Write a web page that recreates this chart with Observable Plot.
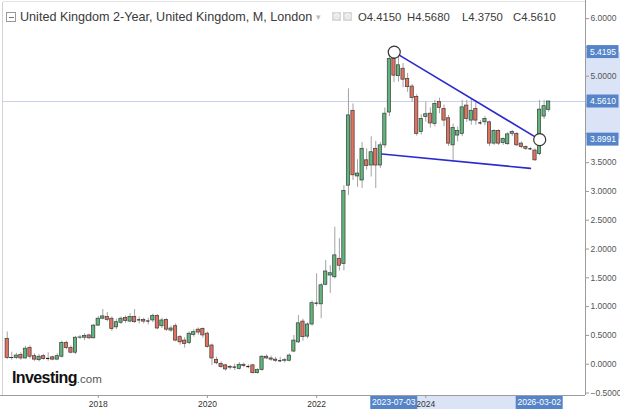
<!DOCTYPE html>
<html><head><meta charset="utf-8">
<script src="https://cdn.jsdelivr.net/npm/d3@7"></script>
<script src="https://cdn.jsdelivr.net/npm/@observablehq/plot@0.6"></script>
<style>
html,body{margin:0;padding:0;background:#fff;}
#wrap{position:relative;width:620px;height:409px;overflow:hidden;font-family:"Liberation Sans",Arial,sans-serif;}
#wrap svg{display:block}
.ov{position:absolute;white-space:nowrap;line-height:14px;color:#3a3a3a;font-size:12.6px;}
.ohlc{font-size:11.3px;}
.ico{position:absolute;top:12px;width:9px;height:9px;background:#d9d9d9;color:#fff;font-size:8px;line-height:9px;text-align:center;}
</style></head><body>
<div id="wrap"></div>
<script>
// ---- data (monthly candles, first candle = firstMonth) ----
const firstMonth = "2016-06";
const open = [
  .44,.11,.11,.16,.10,.28,.14,.07,.14,.10,
  .12,.08,.13,.37,.28,.20,.46,.46,.50,.45,
  .67,.79,.82,.79,.64,.72,.80,.74,.82,.77,
  .77,.75,.76,.84,.66,.77,.585,.66,.47,.41,
  .37,.51,.60,.61,.53,.325,.076,.007,-.02,-.05,
  -.05,-.08,-.01,-.04,-.02,-.155,-.10,.13,.10,.08,
  .06,.06,.06,.22,.38,.74,.48,.69,1.06,1.04,
  1.38,1.54,1.51,1.83,1.74,3.10,4.40,3.26,3.19,3.54,
  3.45,3.74,3.45,3.80,4.37,5.30,5.00,5.13,4.95,4.82,
  4.64,4.03,4.29,4.35,4.17,4.55,4.43,4.27,3.80,3.97,
  4.00,4.49,4.23,4.43,4.19,4.20,4.20,3.83,4.05,3.84,
  3.82,4.00,4.00,3.83,3.77,3.74,3.71,3.65,4.30,4.415
];
const high = [
  .56,.21,.19,.20,.31,.32,.18,.17,.17,.20,
  .14,.18,.40,.40,.32,.48,.50,.53,.52,.69,
  .83,.95,.90,.82,.78,.82,.84,.88,.95,.82,
  .80,.80,.87,.86,.80,.79,.66,.70,.50,.46,
  .56,.60,.63,.63,.56,.35,.12,.04,.00,-.02,
  .00,.03,.02,-.01,.00,-.08,.15,.16,.14,.12,
  .12,.10,.18,.50,.845,.78,.72,1.10,1.57,1.40,
  1.80,1.71,2.38,2.18,3.10,4.78,4.52,3.55,3.85,3.74,
  3.95,3.87,3.85,4.45,5.36,5.4195,5.36,5.22,5.05,4.86,
  4.68,4.33,4.55,4.45,4.58,4.62,4.50,4.32,4.17,4.12,
  4.58,4.58,4.60,4.58,4.23,4.30,4.22,4.07,4.07,3.93,
  4.02,4.06,4.02,3.86,3.79,3.76,3.74,4.58,4.58,4.568
];
const low = [
  .08,.07,.08,.07,.09,.09,.05,.04,.07,.05,
  .06,.06,.11,.25,.18,.17,.43,.41,.43,.44,
  .66,.77,.74,.57,.60,.69,.71,.72,.71,.70,
  .70,.68,.72,.60,.62,.57,.55,.39,.33,.28,
  .34,.47,.50,.45,.28,-.02,-.01,-.07,-.12,-.10,
  -.11,-.10,-.06,-.08,-.17,-.17,-.12,.08,.05,.03,
  .03,.02,.04,.20,.36,.40,.44,.66,1.00,.79,
  1.36,1.23,1.48,1.62,1.62,2.93,3.19,3.07,3.05,3.37,
  3.25,3.05,3.40,3.75,4.30,4.89,4.90,4.80,4.72,4.55,
  3.96,3.98,4.20,4.10,4.12,4.35,4.12,3.78,3.54,3.86,
  3.95,4.20,4.15,4.15,4.15,4.14,3.78,3.80,3.80,3.80,
  3.80,3.95,3.78,3.74,3.71,3.71,3.52,3.62,4.25,4.375
];
const close = [
  .11,.105,.15,.10,.27,.13,.08,.13,.09,.10,
  .08,.14,.37,.28,.20,.46,.465,.49,.45,.67,
  .79,.83,.77,.61,.73,.79,.75,.82,.73,.77,
  .74,.75,.84,.62,.76,.60,.62,.41,.38,.35,
  .53,.556,.55,.50,.30,.10,.017,-.05,-.09,-.06,
  -.05,-.01,-.03,-.04,-.155,-.10,.13,.10,.08,.06,
  .06,.07,.15,.41,.71,.47,.69,1.06,1.06,1.37,
  1.61,1.58,1.89,1.71,3.01,4.32,3.28,3.31,3.74,3.44,
  3.68,3.45,3.80,4.35,5.30,5.01,5.19,4.94,4.81,4.62,
  4.00,4.26,4.34,4.18,4.52,4.45,4.23,3.83,4.10,4.05,
  4.46,4.26,4.40,4.23,4.19,4.26,3.83,4.05,3.83,3.91,
  3.99,4.03,3.80,3.77,3.74,3.74,3.54,4.42,4.48,4.561
];
const yTicks = [-0.5,0,0.5,1,1.5,2,2.5,3,3.5,4,4.5,5,5.5,6];
const xTickLabels = ["2018","2020","2022","2024"];
const xTickMonths = ["2018-02","2020-02","2022-02","2024-02"];
const pivotDates = ["2023-07-03","2026-03-02"];
const pivotValues = [5.4195, 3.8991];
const supportDates = ["2023-04-12","2026-01-01"];
const supportValues = [3.65, 3.40];
const titleText = "United Kingdom 2-Year, United Kingdom, M, London";

// ---- derived ----
const [fy, fm] = firstMonth.split("-").map(Number);
function monthIndex(s) {
  const [y, m, d] = s.split("-").map(Number);
  return (y - fy) * 12 + (m - fm) + (d ? (d - 1) / 31 : 0);
}
const candles = open.map((o, i) => ({i, open: o, high: high[i], low: low[i], close: close[i]}));
const last = candles[candles.length - 1];
const fmt4 = d3.format(".4f");
const bw = 0.36;
const upC = "#5fb67a", downC = "#e2715e", edge = "#3b3b3b", blueBox = "#5585c8", band = "#dbe4f6";
const bodies = candles.filter(d => d.close !== d.open);
const dojis = candles.filter(d => d.close === d.open);
const pivots = pivotDates.map((s, k) => ({i: monthIndex(s), v: pivotValues[k], label: s}));
const support = supportDates.map((s, k) => ({i: monthIndex(s), v: supportValues[k]}));
const yCallouts = [pivots[0].v, last.close, pivots[1].v];
const tickMap = new Map(xTickMonths.map((m, k) => [monthIndex(m), xTickLabels[k]]));
// tick labels that sit under a value callout are covered (as in the reference)
const yTickLabel = t => yCallouts.some(v => Math.abs(v - t) < 0.2) ? "" : fmt4(t);

function bands(index, {x, y}, values, dim) {
  const g = d3.create("svg:g");
  const right = dim.width - dim.marginRight, bottom = dim.height - dim.marginBottom;
  const ya = y(pivots[0].v), yb = y(pivots[1].v);
  g.append("rect").attr("x", right + 1).attr("y", ya).attr("width", dim.marginRight).attr("height", yb - ya).attr("fill", band);
  const xa = x(pivots[0].i), xb = x(pivots[1].i);
  g.append("rect").attr("x", xa).attr("y", bottom + 1).attr("width", xb - xa).attr("height", dim.marginBottom).attr("fill", band);
  return g.node();
}
function frameLines(index, scales, values, dim) {
  const g = d3.create("svg:g").attr("shape-rendering", "crispEdges");
  const l = dim.marginLeft, r = dim.width - dim.marginRight, t = dim.marginTop, b = dim.height - dim.marginBottom;
  const seg = (x1, y1, x2, y2, c) => g.append("line").attr("x1", x1).attr("y1", y1).attr("x2", x2).attr("y2", y2).attr("stroke", c);
  seg(l - 0.5, t, l - 0.5, b, "#d2d2d2");
  seg(l, t - 0.5, r, t - 0.5, "#e2e2e2");
  seg(r + 0.5, 0, r + 0.5, b, "#9c9c9c");
  seg(0, b + 0.5, r, b + 0.5, "#9c9c9c");
  return g.node();
}
function callouts(index, {x, y}, values, dim) {
  const g = d3.create("svg:g").attr("font-size", 8.5).attr("fill", "white");
  const right = dim.width - dim.marginRight, bottom = dim.height - dim.marginBottom;
  for (const v of yCallouts) {
    const cy = y(v);
    g.append("rect").attr("x", right + 1.5).attr("y", cy - 6.5).attr("width", 32).attr("height", 13).attr("fill", blueBox);
    g.append("text").attr("x", right + 5).attr("y", cy).attr("dy", "0.35em").attr("text-anchor", "start").text(fmt4(v));
  }
  for (const p of pivots) {
    const cx = x(p.i);
    g.append("rect").attr("x", cx - 23.5).attr("y", bottom + 1).attr("width", 47).attr("height", 13).attr("fill", blueBox);
    g.append("text").attr("x", cx).attr("y", bottom + 7.5).attr("text-anchor", "middle").attr("dy", "0.35em").text(p.label);
  }
  return g.node();
}

const chart = Plot.plot({
  width: 620, height: 409,
  marginLeft: 3, marginRight: 35, marginTop: 2, marginBottom: 14,
  x: {type: "linear", domain: [-0.82, 127.1], axis: null, label: null},
  y: {type: "linear", domain: [-0.543, 6.28], axis: null, label: null},
  style: {fontFamily: "'Liberation Sans', Arial, sans-serif", fontSize: "8.5px", background: "white", overflow: "visible"},
  marks: [
    bands,
    frameLines,
    Plot.ruleY([last.close], {stroke: "#c7d1e8", strokeWidth: 1}),
    Plot.ruleX(candles, {x: "i", y1: "low", y2: "high", stroke: "#a3a3a3", strokeWidth: 1}),
    Plot.rect(bodies, {x1: d => d.i - bw, x2: d => d.i + bw, y1: "open", y2: "close",
      fill: d => d.close > d.open ? upC : downC, stroke: edge, strokeWidth: 0.7}),
    Plot.ruleY(dojis, {y: "close", x1: d => d.i - bw, x2: d => d.i + bw, stroke: "#222", strokeWidth: 1.2}),
    Plot.line(pivots, {x: "i", y: "v", stroke: "#2b2bcf", strokeWidth: 1.6}),
    Plot.line(support, {x: "i", y: "v", stroke: "#2b2bcf", strokeWidth: 1.6}),
    Plot.dot(pivots, {x: "i", y: "v", r: 6, fill: "white", stroke: "#333", strokeWidth: 1.2}),
    Plot.axisY(yTicks, {anchor: "right", label: null, tickFormat: yTickLabel, tickSize: 3, tickPadding: 2, stroke: "#999", fill: "#555", fontSize: 8.5}),
    Plot.axisX([...tickMap.keys()], {anchor: "bottom", label: null, tickFormat: d => tickMap.get(d), tickSize: 3, tickPadding: 2, stroke: "#999", fill: "#333", fontSize: 8.5}),
    callouts
  ]
});
const wrap = document.getElementById("wrap");
wrap.appendChild(chart);

// ---- header & logo overlays (real text) ----
const f = fmt4;
const header = [
  {left: 20, text: titleText, cls: "ov"},
  {left: 358, text: "O" + f(last.open), cls: "ov ohlc"},
  {left: 407, text: "H" + f(last.high), cls: "ov ohlc"},
  {left: 462, text: "L" + f(last.low), cls: "ov ohlc"},
  {left: 513, text: "C" + f(last.close), cls: "ov ohlc"}
];
for (const h of header) {
  const d = document.createElement("div");
  d.className = h.cls; d.style.left = h.left + "px"; d.style.top = "10px"; d.textContent = h.text;
  wrap.appendChild(d);
}
const box = document.createElement("div");
box.style.cssText = "position:absolute;left:6px;top:12px;width:8px;height:8px;border:1px solid #9a9a9a;";
box.innerHTML = '<div style="position:absolute;left:1.5px;top:3.5px;width:5px;height:1px;background:#777"></div>';
wrap.appendChild(box);
const arrow = document.createElement("div");
arrow.className = "ov"; arrow.style.cssText += "left:316px;top:10px;color:#bbb;font-size:9px;"; arrow.textContent = "▾";
wrap.appendChild(arrow);
for (const l of [332, 343]) {
  const d = document.createElement("div");
  d.className = "ico"; d.style.left = l + "px"; d.textContent = "⚙";
  wrap.appendChild(d);
}
const logo = document.createElement("div");
logo.style.cssText = "position:absolute;left:12px;top:369px;line-height:18px;font-size:16px;font-weight:bold;letter-spacing:-0.6px;color:#111;white-space:nowrap;";
logo.innerHTML = 'Investing<span style="font-weight:normal;font-size:11.5px;letter-spacing:0;color:#555">.com</span>';
wrap.appendChild(logo);
</script></body></html>
